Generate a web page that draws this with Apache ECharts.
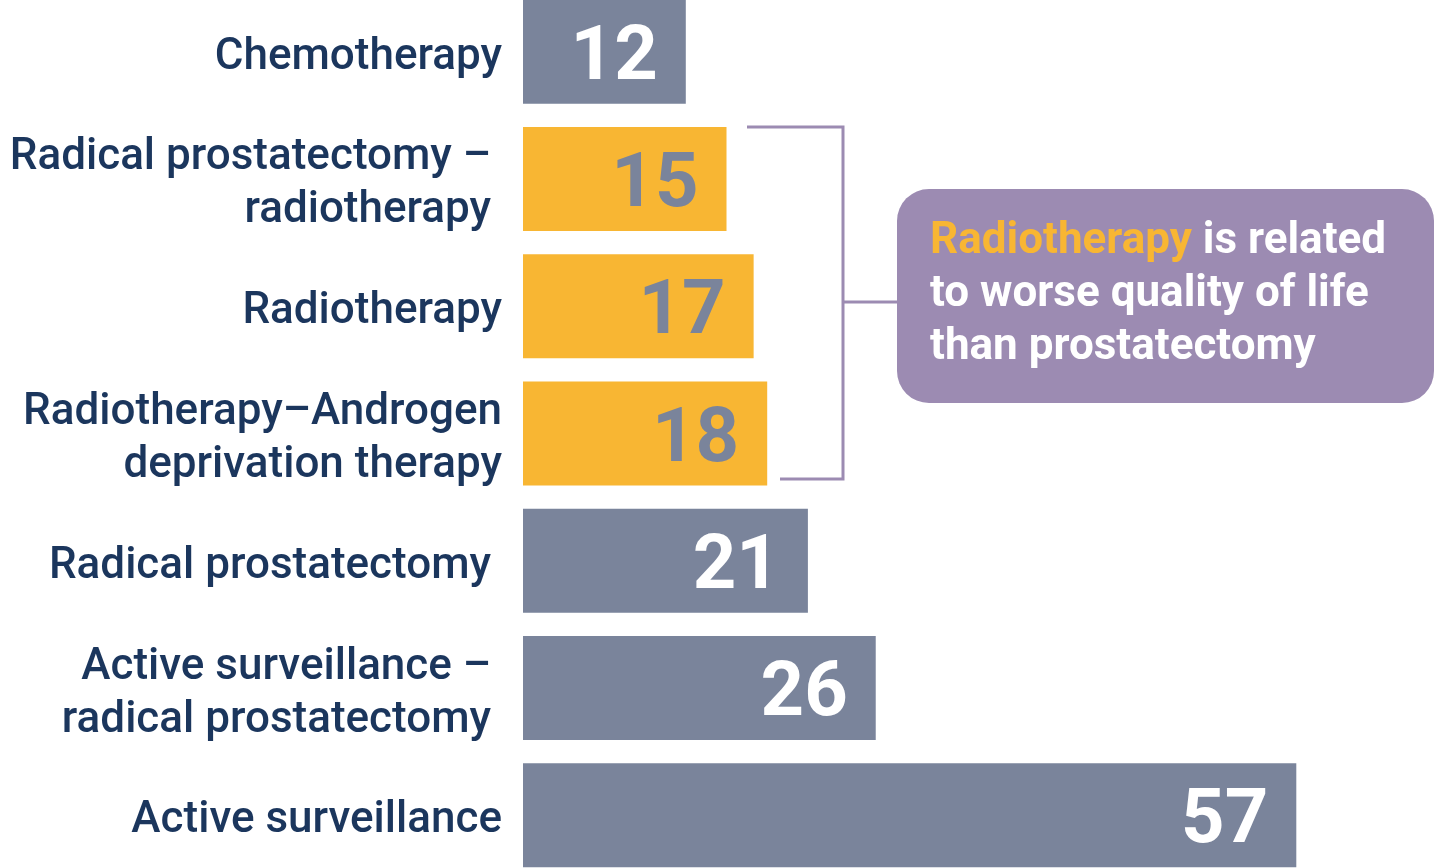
<!DOCTYPE html>
<html>
<head>
<meta charset="utf-8">
<script src="https://cdn.jsdelivr.net/npm/echarts@6/dist/echarts.min.js"></script>
<style>
  html, body { margin: 0; padding: 0; background: #fff; }
  #chart { width: 1435px; height: 868px; }
</style>
</head>
<body>
<div id="chart"></div>
<script>
// treatments, top to bottom (trailing spaces keep the original label alignment)
var categories = [
  'Chemotherapy',
  'Radical prostatectomy – \nradiotherapy ',
  'Radiotherapy',
  'Radiotherapy–Androgen\ndeprivation therapy',
  'Radical prostatectomy ',
  'Active surveillance – \nradical prostatectomy ',
  'Active surveillance'
]
var values = [12, 15, 17, 18, 21, 26, 57]
// bars that involve radiotherapy are highlighted
var radiotherapy = [false, true, true, true, false, false, false]

var GRAY = '#7a849b'
var YELLOW = '#f8b633'
var PURPLE = '#9c8bb2'
var NAVY = '#1b365d'
var FONT = 'Roboto'

var chart = echarts.init(document.getElementById('chart'))

var barData = values.map(function (v, i) {
  var hi = radiotherapy[i]
  return {
    value: v,
    itemStyle: { color: hi ? YELLOW : GRAY },
    label: { color: hi ? GRAY : '#ffffff' }
  }
})

chart.setOption({
  animation: false,
  grid: { left: 523, right: 98, top: -12, bottom: -11, outerBoundsMode: 'none', containLabel: false },
  xAxis: {
    type: 'value',
    min: 0,
    max: 60,
    show: false
  },
  yAxis: {
    type: 'category',
    inverse: true,
    data: categories,
    axisLine: { show: false },
    axisTick: { show: false },
    axisLabel: {
      margin: 21,
      color: NAVY,
      fontFamily: FONT,
      fontSize: 44,
      fontWeight: 500,
      lineHeight: 53,
      // push every line a little lower, as in the original
      formatter: function (v) {
        return v.split('\n').map(function (s) { return '{l|' + s + '}' }).join('\n')
      },
      rich: {
        l: {
          color: NAVY,
          fontFamily: FONT,
          fontSize: 44,
          fontWeight: 500,
          lineHeight: 53,
          padding: [12, 0, 0, 0]
        }
      }
    }
  },
  series: [
    {
      type: 'bar',
      barWidth: 104,
      data: barData,
      label: {
        show: true,
        position: 'insideRight',
        distance: 28,
        offset: [0, 8],
        fontFamily: FONT,
        fontSize: 76,
        fontWeight: 'bold'
      }
    }
  ],
  graphic: [
    {
      type: 'polyline',
      shape: { points: [[747, 127], [843, 127], [843, 479], [780, 479]] },
      style: { stroke: PURPLE, lineWidth: 3, fill: null }
    },
    {
      type: 'line',
      shape: { x1: 843, y1: 302, x2: 898, y2: 302 },
      style: { stroke: PURPLE, lineWidth: 3 }
    },
    {
      type: 'rect',
      shape: { x: 897, y: 189, width: 537, height: 214, r: 32 },
      style: { fill: PURPLE }
    },
    {
      type: 'text',
      x: 930,
      y: 215,
      style: {
        text: '{hl|Radiotherapy} is related\nto worse quality of life\nthan prostatectomy',
        fill: '#ffffff',
        fontFamily: FONT,
        fontSize: 44,
        fontWeight: 'bold',
        lineHeight: 53,
        verticalAlign: 'top',
        rich: {
          hl: {
            fill: YELLOW,
            fontFamily: FONT,
            fontSize: 44,
            fontWeight: 'bold',
            lineHeight: 53
          }
        }
      }
    }
  ]
})
</script>
</body>
</html>
